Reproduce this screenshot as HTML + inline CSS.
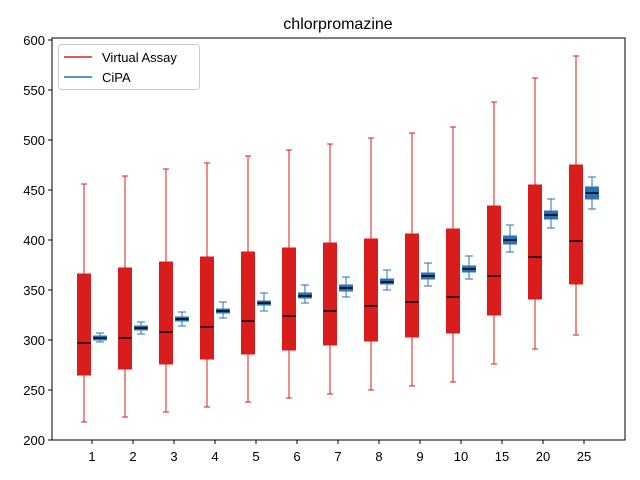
<!DOCTYPE html>
<html><head><meta charset="utf-8"><style>
body{margin:0;background:#fff;}
svg{display:block;font-family:"Liberation Sans",sans-serif;}
</style></head><body>
<svg id="chart" width="640" height="480">
<rect width="640" height="480" fill="#fff"/>
<text x="338" y="29" text-anchor="middle" font-size="16">chlorpromazine</text>
<g id="marks"></g>
<rect x="52" y="38" width="573" height="402" fill="none" stroke="#000" stroke-width="1"/>
<g id="axes"></g>
<g>
<rect x="58.5" y="44.5" width="141" height="45" rx="3" fill="#fff" fill-opacity="0.8" stroke="#ccc"/>
<line x1="64" y1="57" x2="92" y2="57" stroke="#d62728" stroke-width="1.5"/>
<text x="102" y="62" font-size="13">Virtual Assay</text>
<line x1="64" y1="77" x2="92" y2="77" stroke="#1f77b4" stroke-width="1.5"/>
<text x="102" y="82" font-size="13">CiPA</text>
</g>
</svg>
<script>
const categories=["1","2","3","4","5","6","7","8","9","10","15","20","25"];
const vaLow=[218,223,228,233,238,242,246,250,254,258,276,291,305];
const vaQ1=[265,271,276,281,286,290,295,299,303,307,325,341,356];
const vaMed=[297,302,308,313,319,324,329,334,338,343,364,383,399];
const vaQ3=[366,372,378,383,388,392,397,401,406,411,434,455,475];
const vaHigh=[456,464,471,477,484,490,496,502,507,513,538,562,584];
const cpLow=[298,306,314,322,329,337,343,350,354,361,388,412,431];
const cpQ1=[300,310,319,327,335,342,349,356,361,368,396,421,441];
const cpMed=[302,312,321,329,337,344,352,358,364,371,400,425,447];
const cpQ3=[304,314,323,331,339,347,355,361,367,374,404,429,453];
const cpHigh=[307,318,328,338,347,355,363,370,377,384,415,441,463];
const yTicks=[200,250,300,350,400,450,500,550,600];
const NS="http://www.w3.org/2000/svg";
const y=v=>440-(v-200)*1.0;
const x=i=>92+i*41;
function mk(tag,attrs,parent){const e=document.createElementNS(NS,tag);for(const k in attrs)e.setAttribute(k,attrs[k]);parent.appendChild(e);return e;}
const marks=document.getElementById('marks'),axes=document.getElementById('axes');
function box(cx,lo,q1,md,q3,hi,color,name,capW){
  const g=mk('g',{},marks);
  
  
  mk('line',{x1:cx,x2:cx,y1:y(lo),y2:y(hi),stroke:color,'stroke-width':1},g);
  mk('line',{x1:cx-capW,x2:cx+capW,y1:y(lo),y2:y(lo),stroke:color,'stroke-width':1},g);
  mk('line',{x1:cx-capW,x2:cx+capW,y1:y(hi),y2:y(hi),stroke:color,'stroke-width':1},g);
  mk('rect',{x:cx-6.5,y:y(q3),width:13,height:y(q1)-y(q3),fill:color,stroke:color},g);
  mk('line',{x1:cx-6.5,x2:cx+6.5,y1:y(md),y2:y(md),stroke:'#000','stroke-width':1.5},g);
}
categories.forEach((c,i)=>{
  box(x(i)-8,vaLow[i],vaQ1[i],vaMed[i],vaQ3[i],vaHigh[i],'#d91c1c','virtual-assay-box-'+c,3);
  box(x(i)+8,cpLow[i],cpQ1[i],cpMed[i],cpQ3[i],cpHigh[i],'#2a72b3','cipa-box-'+c,4);
  const t=mk('line',{x1:x(i),x2:x(i),y1:440,y2:444,stroke:'#000'},axes);
  
  
  const l=mk('text',{x:x(i),y:461,'text-anchor':'middle','font-size':13},axes);
  l.textContent=c;
  
  
});
yTicks.forEach(v=>{
  const t=mk('line',{x1:48,x2:52,y1:y(v),y2:y(v),stroke:'#000'},axes);
  
  
  const l=mk('text',{x:45,y:y(v)+5,'text-anchor':'end','font-size':13},axes);
  l.textContent=v;
  
  
});
</script>
</body></html>
